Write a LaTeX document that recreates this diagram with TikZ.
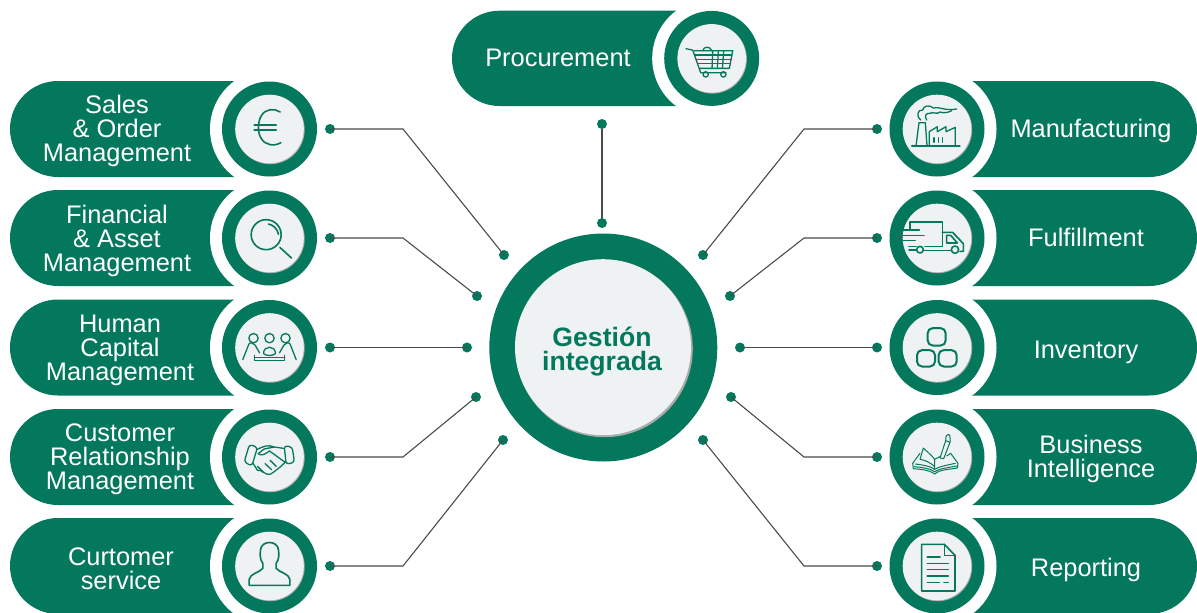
\documentclass[tikz,border=0pt]{standalone}
\usepackage{fontspec}
\setmainfont{Liberation Sans}
\definecolor{erp}{HTML}{03785D}
\definecolor{disc}{HTML}{EFF2F3}
\definecolor{rim}{HTML}{A9ABAB}
\definecolor{wire}{HTML}{4A4A4A}
\tikzset{
  pill/.style={fill=erp},
  cut/.style={circle,fill=white,minimum size=119pt,inner sep=0},
  ring/.style={circle,fill=erp,minimum size=95pt,inner sep=0},
  rimdisc/.style={circle,fill=rim,minimum size=69pt,inner sep=0},
  innerdisc/.style={circle,fill=disc,minimum size=68.6pt,inner sep=0},
  dot/.style={circle,fill=erp,minimum size=10pt,inner sep=0},
  wirel/.style={draw=wire,line width=1.1pt},
  label/.style={text=white,align=center,font=\fontsize{25.4}{24}\selectfont,inner sep=0},
  icon/.style={draw=erp,line width=1.6pt,line join=round,line cap=round,fill=none},
  thinicon/.style={draw=erp,line width=1.3pt,line join=round,line cap=round,fill=none},
}
\newcommand{\LeftUnit}[2]{%
  \fill[pill] (269,#2-48) [rounded corners=48pt] -- (10,#2-48) -- (10,#2+48) [sharp corners] -- (269,#2+48) -- cycle;
  \node[cut] at (269.5,#2) {};
  \node[ring] at (269.5,#2) {};
  \node[rimdisc] at (270.2,#2+.7) {};
  \node[innerdisc] (#1disc) at (269.5,#2) {};
  \node[dot] (#1dot) at (330,#2) {};
}
\newcommand{\RightUnit}[2]{%
  \fill[pill] (937,#2-48) [rounded corners=48pt] -- (1197,#2-48) -- (1197,#2+48) [sharp corners] -- (937,#2+48) -- cycle;
  \node[cut] at (937,#2) {};
  \node[ring] at (937,#2) {};
  \node[rimdisc] at (937.7,#2+.7) {};
  \node[innerdisc] (#1disc) at (937,#2) {};
  \node[dot] (#1dot) at (877,#2) {};
}
\begin{document}
\begin{tikzpicture}[x=1pt,y=-1pt]
\useasboundingbox (0,0) rectangle (1197,613);
\fill[white] (0,0) rectangle (1197,613);

% top unit
\fill[pill] (712,10.7) [rounded corners=47.6pt] -- (452,10.7) -- (452,106) [sharp corners] -- (712,106) -- cycle;
\node[cut] at (711.7,58.4) {};
\node[ring] at (711.7,58.4) {};
\node[rimdisc] at (712.4,59.1) {};
\node[innerdisc] (pdisc) at (711.7,58.4) {};
\node[label] (ptext) at (558,58) {Procurement};
\node[dot] (ptop) at (602,124) {};
\node[dot] (pbot) at (602,223) {};

\LeftUnit{la}{129}
\LeftUnit{lb}{238}
\LeftUnit{lc}{347.5}
\LeftUnit{ld}{457}
\LeftUnit{le}{566}
\RightUnit{ra}{129}
\RightUnit{rb}{238}
\RightUnit{rc}{347.5}
\RightUnit{rd}{457}
\RightUnit{re}{566}

% texts
\node[label] (lat) at (117,130.5) {Sales\\\& Order\\Management};
\node[label] (lbt) at (117,240.5) {Financial\\\& Asset\\Management};
\node[label] (lct) at (120,350.5) {Human\\Capital\\Management};
\node[label] (ldt) at (120,459.5) {Customer\\Relationship\\Management};
\node[label] (let) at (121,569) {Curtomer\\service};
\node[label] (rat) at (1091,131) {Manufacturing};
\node[label] (rbt) at (1086,237) {Fulfillment};
\node[label] (rct) at (1086,352.5) {Inventory};
\node[label] (rdt) at (1091,458.5) {Business\\Intelligence};
\node[label] (ret) at (1086,570) {Reporting};

% hub
\node[circle,fill=erp,minimum size=228pt,inner sep=0] (hubring) at (603.3,347.5) {};
\node[circle,fill=rim,minimum size=177pt,inner sep=0] (hubrim) at (604.3,348.7) {};
\node[circle,fill=disc,minimum size=176pt,inner sep=0] (hub) at (603,347.2) {};
\node[align=center,text=erp,inner sep=0,font=\bfseries\fontsize{26.6}{24}\selectfont] (hubt) at (602,352) {Gestión\\integrada};

% hub side dots
\node[dot] (ha) at (504,255) {};
\node[dot] (hb) at (477,296) {};
\node[dot] (hc) at (467,347.5) {};
\node[dot] (hd) at (476,397) {};
\node[dot] (he) at (503,440) {};
\node[dot] (hf) at (703,255) {};
\node[dot] (hg) at (730,296) {};
\node[dot] (hh) at (740,347.5) {};
\node[dot] (hi) at (731,397) {};
\node[dot] (hj) at (703,440) {};
\coordinate (ka) at (403,129);
\coordinate (kb) at (403,238);
\coordinate (kd) at (403,457);
\coordinate (ke) at (403,566);
\coordinate (kf) at (804,129);
\coordinate (kg) at (804,238);
\coordinate (ki) at (804,457);
\coordinate (kj) at (804,566);

\draw[wirel] (ptop) -- (pbot);
\draw[wirel] (ladot.center) -- (ka) -- (ha.center);
\draw[wirel] (lbdot.center) -- (kb) -- (hb.center);
\draw[wirel] (lcdot.center) -- (hc.center);
\draw[wirel] (lddot.center) -- (kd) -- (hd.center);
\draw[wirel] (ledot.center) -- (ke) -- (he.center);
\draw[wirel] (radot.center) -- (kf) -- (hf.center);
\draw[wirel] (rbdot.center) -- (kg) -- (hg.center);
\draw[wirel] (rcdot.center) -- (hh.center);
\draw[wirel] (rddot.center) -- (ki) -- (hi.center);
\draw[wirel] (redot.center) -- (kj) -- (hj.center);

% euro
\begin{scope}[shift={(269.5,129)},x=.3333pt,y=-.3333pt,shift={(-808,-177)}]
\draw[icon] (840,126) .. controls (822,114) and (795,116) .. (783,138) .. controls (772,158) and (772,188) .. (783,205) .. controls (795,226) and (822,230) .. (842,218);
\draw[icon] (762,165) -- (828,165);
\draw[icon] (762,180) -- (828,180);
\end{scope}
% magnifier
\begin{scope}[shift={(269.5,238)},x=.3333pt,y=-.3333pt,shift={(-808,-505)}]
\draw[icon] (798,495) circle[radius=45];
\draw[icon] (805,463) .. controls (820,466) and (832,478) .. (835,494);
\draw[icon] (839,533) -- (874,565);
\end{scope}
% meeting
\begin{scope}[shift={(269.5,347.5)},x=.3333pt,y=-.3333pt,shift={(-208,-172)}]
\foreach \hx in {160,208,256} \draw[thinicon] (\hx,144) circle[radius=14];
\draw[thinicon] (128,208) -- (146,162) .. controls (150,155) and (160,158) .. (165,165) -- (178,188);
\draw[thinicon] (288,208) -- (270,162) .. controls (266,155) and (256,158) .. (251,165) -- (238,188);
\draw[thinicon] (190,190) .. controls (190,165) and (226,165) .. (226,190) .. controls (220,198) and (196,198) .. (190,190);
\draw[thinicon] (163,195) -- (163,211) -- (254,211) -- (254,195);
\draw[thinicon] (163,201) -- (254,201);
\end{scope}
% handshake
\begin{scope}[shift={(269.5,457)},x=.3333pt,y=-.3333pt,shift={(-208,-500)}]
\draw[thinicon,rounded corners=3pt] (148,462) -- (172,471) -- (155,527) -- (132,515) -- cycle;
\draw[thinicon,rounded corners=3pt] (252,466) -- (276,470) -- (283,516) -- (258,522) -- cycle;
\draw[thinicon] (171,477) .. controls (190,468) and (205,462) .. (222,470) -- (250,474);
\draw[thinicon] (222,470) -- (192,476) -- (174,490) .. controls (182,498) and (195,492) .. (208,482) -- (255,516);
\draw[thinicon] (158,518) -- (172,540) .. controls (180,536) and (182,544) .. (190,546) .. controls (196,552) and (204,552) .. (210,552) -- (222,544) -- (240,530) -- (255,516);
\draw[thinicon] (195,520) -- (214,538);
\draw[thinicon] (210,510) -- (228,528);
\draw[thinicon] (172,528) -- (190,546);
\end{scope}
% person
\begin{scope}[shift={(269.5,566)},x=.3333pt,y=-.3333pt,shift={(-208,-828)}]
\draw[icon] (147,886) -- (147,868) .. controls (150,850) and (178,848) .. (188,835) -- (188,820) .. controls (178,808) and (180,790) .. (181,780) .. controls (183,750) and (233,750) .. (235,780) .. controls (236,790) and (238,808) .. (228,820) -- (228,835) .. controls (238,848) and (266,850) .. (269,868) -- (269,886) -- cycle;
\end{scope}
% cart
\begin{scope}[shift={(711.7,58.4)},x=.3333pt,y=-.3333pt,shift={(-815,-175)}]
\draw[thinicon] (738,146) -- (758,150) -- (782,218) -- (858,218);
\draw[thinicon] (762,152) -- (878,152) -- (868,205) -- (778,205);
\draw[thinicon] (765,165) -- (875,165);
\draw[thinicon] (769,178) -- (873,178);
\draw[thinicon] (773,191) -- (870,191);
\draw[thinicon] (818,152) -- (816,205);
\draw[thinicon] (835,152) -- (832,205);
\draw[thinicon] (851,152) -- (847,205);
\draw[thinicon] (788,152) .. controls (790,138) and (812,138) .. (815,152);
\draw[thinicon] (797,223) circle[radius=8];
\draw[thinicon] (850,223) circle[radius=8];
\end{scope}
% factory
\begin{scope}[shift={(937,129)},x=.3333pt,y=-.3333pt,shift={(-171,-177)}]
\draw[thinicon] (95,228) -- (240,228);
\draw[thinicon] (108,228) -- (117,158) -- (136,158) -- (141,228);
\draw[thinicon] (148,228) -- (148,185) -- (172,170) -- (172,185) -- (198,170) -- (198,185) -- (226,172) -- (226,228);
\draw[thinicon] (162,203) -- (162,217) (175,203) -- (175,217) (187,203) -- (187,217);
\draw[thinicon] (122,150) .. controls (108,140) and (112,118) .. (128,120) .. controls (130,106) and (150,104) .. (160,114) .. controls (175,108) and (195,124) .. (230,117);
\draw[thinicon] (140,150) .. controls (132,138) and (138,128) .. (150,130) .. controls (160,124) and (170,135) .. (180,126) .. controls (190,130) and (205,128) .. (215,122);
\end{scope}
% truck
\begin{scope}[shift={(937,238)},x=.3333pt,y=-.3333pt,shift={(-171,-505)}]
\draw[icon] (90,478) -- (90,457) -- (187,457) -- (187,530) -- (135,530);
\draw[icon] (70,481) -- (118,481);
\draw[icon] (70,497) -- (132,497);
\draw[icon] (70,513) -- (106,513);
\draw[icon] (87,530) -- (108,530);
\draw[icon] (87,541) -- (108,541);
\draw[icon] (132,542) -- (212,542);
\draw[icon] (187,488) -- (218,488) -- (250,522) -- (250,545) -- (240,545);
\draw[icon] (200,497) -- (212,497) -- (232,520) -- (200,520) -- cycle;
\draw[icon] (120,540) circle[radius=10];
\draw[icon] (225,540) circle[radius=11];
\end{scope}
% inventory
\begin{scope}[shift={(937,347.5)},x=.3333pt,y=-.3333pt,shift={(-171,-833)}]
\draw[icon,line width=2pt,rounded corners=5pt] (143,775) rectangle (197,827);
\draw[icon,line width=2pt,rounded corners=5pt] (111,841) rectangle (165,890);
\draw[icon,line width=2pt,rounded corners=5pt] (176,841) rectangle (230,890);
\end{scope}
% book
\begin{scope}[shift={(937,457)},x=.3333pt,y=-.3333pt,shift={(-171,-171)}]
\draw[thinicon,line width=1pt] (164,222) .. controls (145,208) and (120,208) .. (100,206) -- (98,190) -- (120,160);
\draw[thinicon,line width=1pt] (164,222) .. controls (180,208) and (210,208) .. (232,204) -- (234,190) -- (212,160) -- (200,168);
\draw[thinicon,line width=1pt] (102,200) .. controls (125,202) and (150,205) .. (164,215) .. controls (180,205) and (205,203) .. (230,198);
\draw[thinicon,line width=1pt] (106,192) .. controls (130,195) and (150,198) .. (164,208) .. controls (180,198) and (205,195) .. (226,190);
\draw[thinicon,line width=1pt] (164,208) -- (164,178) .. controls (150,160) and (135,150) .. (130,144) -- (120,178) .. controls (135,180) and (155,190) .. (164,200);
\draw[thinicon,line width=1pt] (164,178) .. controls (170,175) and (175,172) .. (180,170);
\draw[thinicon,line width=1pt] (180,174) -- (197,122) -- (210,127) -- (191,176) -- cycle;
\draw[thinicon,line width=1pt] (197,122) -- (198,110) .. controls (202,100) and (212,102) .. (210,114) -- (210,127);
\end{scope}
% document
\begin{scope}[shift={(937,566)},x=.3333pt,y=-.3333pt,shift={(-171,-497)}]
\draw[icon] (193,432) -- (125,432) -- (125,572) -- (225,572) -- (225,465) -- cycle;
\draw[icon] (193,432) -- (193,465) -- (225,465);
\draw[icon] (142,470) -- (180,470);
\draw[icon] (142,490) -- (205,490);
\draw[icon] (142,508) -- (205,508);
\draw[icon] (142,527) -- (205,527);
\draw[icon] (142,546) -- (178,546);
\draw[icon] (192,546) -- (205,546);
\end{scope}
\end{tikzpicture}
\end{document}
